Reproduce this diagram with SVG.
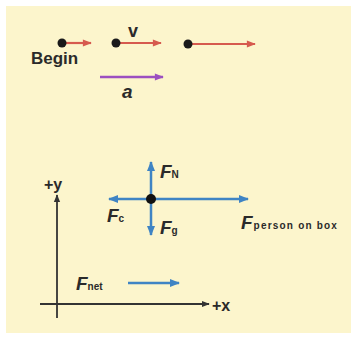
<svg xmlns="http://www.w3.org/2000/svg" width="351" height="338" viewBox="0 0 351 338">
<defs>
<marker id="ahR" viewBox="0 0 10 10" refX="9" refY="5" markerWidth="10" markerHeight="9" markerUnits="userSpaceOnUse" orient="auto"><path d="M0,1 L10,5 L0,9 Z" fill="#d65a4e"/></marker>
<marker id="ahP" viewBox="0 0 10 10" refX="9" refY="5" markerWidth="10" markerHeight="9" markerUnits="userSpaceOnUse" orient="auto"><path d="M0,1 L10,5 L0,9 Z" fill="#9c4fc0"/></marker>
<marker id="ahB" viewBox="0 0 10 10" refX="9" refY="5" markerWidth="10" markerHeight="10" markerUnits="userSpaceOnUse" orient="auto"><path d="M0,1 L10,5 L0,9 Z" fill="#3f84c4"/></marker>
<marker id="ahK" viewBox="0 0 10 10" refX="9" refY="5" markerWidth="8" markerHeight="8" markerUnits="userSpaceOnUse" orient="auto"><path d="M0,1 L10,5 L0,9 Z" fill="#333"/></marker>
</defs>
<style>
.lbl{font-family:"Liberation Sans",Arial,sans-serif;font-weight:bold;fill:#2a2a2a}
.F{font-family:"Liberation Sans",Arial,sans-serif;font-weight:bold;font-style:italic;fill:#2a2a2a;font-size:19px}
.sub{font-family:"Liberation Sans",Arial,sans-serif;font-weight:bold;font-style:normal;fill:#2a2a2a;font-size:10px}
.red{stroke:#d65a4e;stroke-width:2.2;fill:none;marker-end:url(#ahR)}
.pur{stroke:#9c4fc0;stroke-width:2.5;fill:none;marker-end:url(#ahP)}
.blu{stroke:#3f84c4;stroke-width:2.5;fill:none;marker-end:url(#ahB)}
.axis{stroke:#333;stroke-width:1.8;fill:none}
</style>
<rect width="351" height="338" fill="#ffffff"/>
<rect x="6" y="6" width="345" height="327" fill="#fcf5cc"/>

<g id="connectors">
<line class="red" x1="64" y1="43" x2="91" y2="43"/>
<line class="red" x1="118" y1="43" x2="161" y2="43"/>
<line class="red" x1="190" y1="44" x2="255" y2="44"/>
<line class="pur" x1="100" y1="77" x2="163" y2="77"/>
<line class="blu" x1="151" y1="199" x2="151" y2="162"/>
<line class="blu" x1="151" y1="199" x2="151" y2="235"/>
<line class="blu" x1="151" y1="199" x2="109" y2="199"/>
<line class="blu" x1="151" y1="199" x2="248" y2="199"/>
<line class="blu" x1="128" y1="283" x2="179" y2="283"/>
<line class="axis" x1="57" y1="318" x2="57" y2="195" marker-end="url(#ahK)"/>
<line class="axis" x1="40" y1="304" x2="209" y2="304" marker-end="url(#ahK)"/>
</g>

<g id="dot1"><circle cx="62" cy="43" r="4.5" fill="#1a1a1a"/><text class="lbl" x="31" y="64" font-size="17">Begin</text></g>
<g id="dot2"><circle cx="116" cy="43" r="4.5" fill="#1a1a1a"/><text class="lbl" x="128" y="37" font-size="18">v</text></g>
<g id="dot3"><circle cx="188" cy="44" r="4.5" fill="#1a1a1a"/></g>
<g id="accel"><text class="F" x="122" y="98" font-size="17">a</text></g>

<g id="box"><circle cx="151" cy="199" r="5" fill="#111"/></g>
<g id="FN"><text class="F" x="160" y="178">F<tspan class="sub">N</tspan></text></g>
<g id="Fg"><text class="F" x="160" y="234">F<tspan class="sub" font-size="12">g</tspan></text></g>
<g id="Fc"><text class="F" x="107" y="222">F<tspan class="sub" font-size="12">c</tspan></text></g>
<g id="Fpob"><text class="F" x="241" y="229">F<tspan class="sub" font-size="10.5" dx="1" letter-spacing="1.2">person on box</tspan></text></g>
<g id="Fnet"><text class="F" x="76" y="290">F<tspan class="sub" font-size="11">net</tspan></text></g>
<g id="ylabel"><text class="lbl" x="44" y="190" font-size="16">+y</text></g>
<g id="xlabel"><text class="lbl" x="212" y="311" font-size="16">+x</text></g>
</svg>
